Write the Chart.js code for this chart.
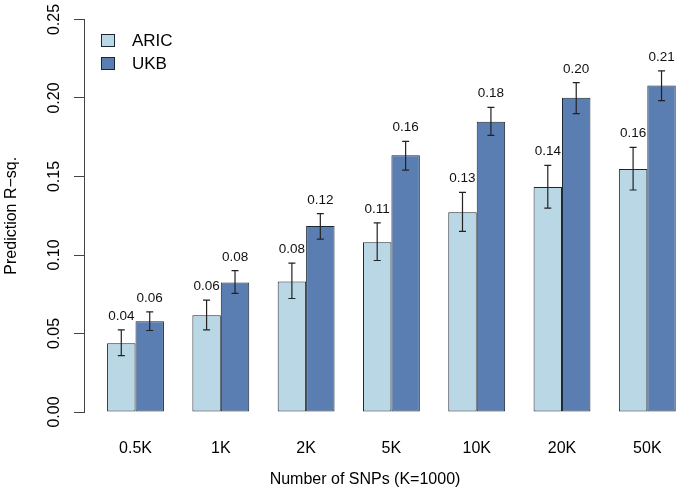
<!DOCTYPE html>
<html>
<head>
<meta charset="utf-8">
<script src="https://cdn.jsdelivr.net/npm/chart.js@4/dist/chart.umd.min.js"></script>
<style>
  html, body { margin: 0; padding: 0; background: #fff; }
  #wrap { width: 677px; height: 501px; position: relative; }
</style>
</head>
<body>
<div id="wrap"><canvas id="c" width="677" height="501"></canvas></div>
<script>
// ---- data ----
const categories = ['0.5K', '1K', '2K', '5K', '10K', '20K', '50K'];
const seriesNames = ['ARIC', 'UKB'];
const aricMean = [0.0438, 0.0617, 0.0831, 0.1082, 0.1273, 0.1433, 0.1548];
const aricLow  = [0.0359, 0.0523, 0.0723, 0.0965, 0.1150, 0.1299, 0.1414];
const aricHigh = [0.0523, 0.0712, 0.0948, 0.1205, 0.1399, 0.1571, 0.1686];
const aricLabels = ['0.04', '0.06', '0.08', '0.11', '0.13', '0.14', '0.16'];
const ukbMean = [0.0578, 0.0825, 0.1184, 0.1635, 0.1849, 0.2001, 0.2079];
const ukbLow  = [0.0519, 0.0755, 0.1101, 0.1541, 0.1762, 0.1900, 0.1983];
const ukbHigh = [0.0638, 0.0900, 0.1263, 0.1724, 0.1940, 0.2098, 0.2173];
const ukbLabels = ['0.06', '0.08', '0.12', '0.16', '0.18', '0.20', '0.21'];
const yTicks = [0, 0.05, 0.10, 0.15, 0.20, 0.25];
const xTitle = 'Number of SNPs (K=1000)';
const yTitle = 'Prediction R\u2212sq.';

const FONT = 'Liberation Sans, Arial, Helvetica, sans-serif';
const colors = ['#bad7e5', '#5a7eb1'];
const borderCol = '#1c2631';

const errLow = [aricLow, ukbLow];
const errHigh = [aricHigh, ukbHigh];
const valueLabels = [aricLabels, ukbLabels];

const errorBarPlugin = {
  id: 'errorBars',
  afterDatasetsDraw(chart) {
    const ctx = chart.ctx;
    const yScale = chart.scales.y;
    ctx.save();
    chart.data.datasets.forEach((ds, di) => {
      const meta = chart.getDatasetMeta(di);
      meta.data.forEach((bar, i) => {
        const x = bar.x;
        const yHi = yScale.getPixelForValue(errHigh[di][i]);
        const yLo = yScale.getPixelForValue(errLow[di][i]);
        ctx.strokeStyle = '#222';
        ctx.lineWidth = 1.2;
        ctx.beginPath();
        ctx.moveTo(x, yLo); ctx.lineTo(x, yHi);
        ctx.moveTo(x - 3.5, yHi); ctx.lineTo(x + 3.5, yHi);
        ctx.moveTo(x - 3.5, yLo); ctx.lineTo(x + 3.5, yLo);
        ctx.stroke();
        ctx.fillStyle = '#111';
        ctx.font = '13.5px ' + FONT;
        ctx.textAlign = 'center';
        ctx.textBaseline = 'alphabetic';
        ctx.fillText(valueLabels[di][i], x, yHi - 10);
      });
    });
    ctx.restore();
  }
};

const legendAndTitlePlugin = {
  id: 'legendAndTitle',
  afterDraw(chart) {
    const ctx = chart.ctx;
    ctx.save();
    // legend
    const items = [{y: 40.5}, {y: 63.5}];
    seriesNames.forEach((name, i) => {
      const cy = items[i].y;
      ctx.fillStyle = colors[i];
      ctx.fillRect(101.5, cy - 6, 13, 12);
      ctx.strokeStyle = borderCol;
      ctx.lineWidth = 1;
      ctx.strokeRect(101.5, cy - 6, 13, 12);
      ctx.fillStyle = '#000';
      ctx.font = '17px ' + FONT;
      ctx.textAlign = 'left';
      ctx.textBaseline = 'middle';
      ctx.fillText(name, 132, cy + 1);
    });
    // x axis title
    ctx.font = '16px ' + FONT;
    ctx.textAlign = 'center';
    ctx.textBaseline = 'middle';
    ctx.fillStyle = '#000';
    ctx.fillText(xTitle, 365, 480);
    ctx.restore();
  }
};

const datasets = seriesNames.map((name, di) => ({
  label: name,
  data: (di === 0 ? aricMean : ukbMean).map((v, i) => ({x: i, y: v})),
  backgroundColor: colors[di],
  borderColor: borderCol,
  borderWidth: 1,
  borderSkipped: false,
  categoryPercentage: 0.6667,
  barPercentage: 1.0
}));

new Chart(document.getElementById('c'), {
  type: 'bar',
  data: { datasets },
  plugins: [errorBarPlugin, legendAndTitlePlugin],
  options: {
    responsive: false,
    animation: false,
    devicePixelRatio: 1,
    layout: { padding: { top: 19.5, right: 0, left: 0, bottom: 0 } },
    plugins: { legend: { display: false }, tooltip: { enabled: false } },
    scales: {
      x: {
        type: 'linear',
        offset: false,
        min: -0.6038,
        max: 6.348,
        afterBuildTicks: s => { s.ticks = categories.map((c, i) => ({ value: i })); },
        afterFit: s => { s.height = 89; s.paddingLeft = 0; s.paddingRight = 0; },
        grid: { display: true, drawOnChartArea: false, drawTicks: true, tickLength: 27, color: 'rgba(0,0,0,0)' },
        border: { display: false },
        ticks: {
          autoSkip: false, maxRotation: 0, minRotation: 0, padding: 0,
          color: '#000', font: { size: 16, family: FONT },
          callback: v => categories[v]
        }
      },
      y: {
        min: 0, max: 0.25,
        afterBuildTicks: s => { s.ticks = yTicks.map(v => ({ value: v })); },
        afterFit: s => { s.width = 84; },
        border: { display: true, color: '#444', width: 1 },
        grid: { drawOnChartArea: false, drawTicks: true, tickLength: 10, color: '#444' },
        ticks: {
          minRotation: 90, maxRotation: 90, crossAlign: 'center', padding: 4,
          color: '#000', font: { size: 16, family: FONT },
          callback: v => Number(v).toFixed(2)
        },
        title: { display: true, text: yTitle, color: '#000', font: { size: 16, family: FONT }, padding: { top: 2 } }
      }
    }
  }
});
</script>
</body>
</html>
